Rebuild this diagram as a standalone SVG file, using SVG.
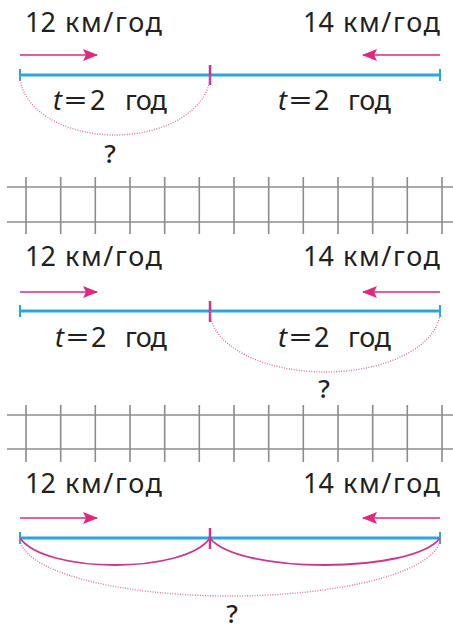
<svg xmlns="http://www.w3.org/2000/svg" width="453" height="630" viewBox="0 0 453 630">
<defs>
<style>
.txt{font-family:"Noto Sans","Open Sans","DejaVu Sans",sans-serif;font-size:27px;fill:#231f20}
.q{font-family:"Noto Sans","Open Sans","DejaVu Sans",sans-serif;font-size:26px;font-weight:500;fill:#231f20}
.it{font-style:italic}
.seg{stroke:#2aa6de;stroke-width:3;fill:none}
.end{stroke:#2aa6de;stroke-width:2;fill:none}
.mid{stroke:#c8338c;stroke-width:2.5;fill:none}
.arr{stroke:#e2277f;stroke-width:1.6;fill:none}
.head{fill:#e2277f}
.dot{stroke:#e0709c;stroke-width:1.4;stroke-dasharray:1 1.5;fill:none}
.arc{stroke:#d0358c;stroke-width:1.8;fill:none}
.grid{stroke:#8c8c8c;stroke-width:1.6;fill:none}
</style>
<marker id="ah" viewBox="0 0 15 12" refX="14" refY="6" markerWidth="15" markerHeight="12" markerUnits="userSpaceOnUse" orient="auto">
<path d="M0,0 L15,6 L0,12 L3,6 Z" class="head"/>
</marker>
</defs>

<!-- Section 1 -->
<g id="s1-speed-left"><text class="txt" y="32"><tspan x="25">12</tspan><tspan x="65" textLength="97">км/год</tspan></text></g>
<g id="s1-speed-right"><text class="txt" y="32"><tspan x="303">14</tspan><tspan x="343" textLength="97">км/год</tspan></text></g>
<g id="s1-time-left"><text class="txt" y="110"><tspan x="53" class="it">t</tspan><tspan x="64" textLength="23" lengthAdjust="spacingAndGlyphs">=</tspan><tspan x="90">2</tspan><tspan x="125" textLength="42">год</tspan></text></g>
<g id="s1-time-right"><text class="txt" y="110"><tspan x="278" class="it">t</tspan><tspan x="289" textLength="23" lengthAdjust="spacingAndGlyphs">=</tspan><tspan x="314">2</tspan><tspan x="348" textLength="43">год</tspan></text></g>
<g id="s1-q"><text class="q" x="110" y="163" text-anchor="middle">?</text></g>
<g id="s1-segment">
<line class="seg" x1="20" y1="75" x2="440" y2="75"/>
<line class="end" x1="20" y1="69" x2="20" y2="81"/>
<line class="end" x1="440" y1="69" x2="440" y2="81"/>
<line class="mid" x1="210" y1="65" x2="210" y2="85"/>
</g>

<!-- Section 2 -->
<g id="s2-speed-left"><text class="txt" y="266"><tspan x="25">12</tspan><tspan x="65" textLength="97">км/год</tspan></text></g>
<g id="s2-speed-right"><text class="txt" y="266"><tspan x="303">14</tspan><tspan x="343" textLength="97">км/год</tspan></text></g>
<g id="s2-time-left"><text class="txt" y="347"><tspan x="55" class="it">t</tspan><tspan x="66" textLength="23" lengthAdjust="spacingAndGlyphs">=</tspan><tspan x="91">2</tspan><tspan x="125" textLength="42">год</tspan></text></g>
<g id="s2-time-right"><text class="txt" y="347"><tspan x="278" class="it">t</tspan><tspan x="289" textLength="23" lengthAdjust="spacingAndGlyphs">=</tspan><tspan x="314">2</tspan><tspan x="348" textLength="43">год</tspan></text></g>
<g id="s2-q"><text class="q" x="324" y="398" text-anchor="middle">?</text></g>
<g id="s2-segment">
<line class="seg" x1="20" y1="311" x2="440" y2="311"/>
<line class="end" x1="20" y1="305" x2="20" y2="317"/>
<line class="end" x1="440" y1="305" x2="440" y2="317"/>
<line class="mid" x1="210" y1="301" x2="210" y2="322"/>
</g>

<!-- Section 3 -->
<g id="s3-speed-left"><text class="txt" y="493"><tspan x="25">12</tspan><tspan x="65" textLength="97">км/год</tspan></text></g>
<g id="s3-speed-right"><text class="txt" y="493"><tspan x="303">14</tspan><tspan x="343" textLength="97">км/год</tspan></text></g>
<g id="s3-q"><text class="q" x="232" y="623" text-anchor="middle">?</text></g>
<g id="s3-segment">
<line class="seg" x1="20" y1="538" x2="440" y2="538"/>
<line class="end" x1="20" y1="532" x2="20" y2="544"/>
<line class="end" x1="440" y1="532" x2="440" y2="544"/>
<line class="mid" x1="210" y1="528" x2="210" y2="549"/>
</g>

<!-- Grids -->
<g id="grid1" class="grid">
<line x1="7" y1="187" x2="453" y2="187"/>
<line x1="7" y1="222" x2="453" y2="222"/>
<path d="M26,177V234M60.7,177V234M95.3,177V234M130,177V234M164.7,177V234M199.3,177V234M234,177V234M268.7,177V234M303.3,177V234M338,177V234M372.7,177V234M407.3,177V234M442,177V234"/>
</g>
<g id="grid2" class="grid">
<line x1="7" y1="415" x2="453" y2="415"/>
<line x1="7" y1="449" x2="453" y2="449"/>
<path d="M26,405V462M60.7,405V462M95.3,405V462M130,405V462M164.7,405V462M199.3,405V462M234,405V462M268.7,405V462M303.3,405V462M338,405V462M372.7,405V462M407.3,405V462M442,405V462"/>
</g>

<!-- Connectors -->
<g id="connectors">
<line class="arr" x1="20" y1="55" x2="97" y2="55" marker-end="url(#ah)"/>
<line class="arr" x1="440" y1="55" x2="363" y2="55" marker-end="url(#ah)"/>
<path class="dot" d="M20,75 A95,60 0 0 0 210,75"/>

<line class="arr" x1="20" y1="292" x2="97" y2="292" marker-end="url(#ah)"/>
<line class="arr" x1="440" y1="292" x2="363" y2="292" marker-end="url(#ah)"/>
<path class="dot" d="M210,311 A115,61 0 0 0 440,311"/>

<line class="arr" x1="20" y1="518" x2="97" y2="518" marker-end="url(#ah)"/>
<line class="arr" x1="440" y1="518" x2="363" y2="518" marker-end="url(#ah)"/>
<path class="arc" d="M20,538 C45,574 185,574 210,538"/>
<path class="arc" d="M210,538 C237,574 413,574 440,538"/>
<path class="dot" d="M20,538 A210,58 0 0 0 440,538"/>
</g>
</svg>
